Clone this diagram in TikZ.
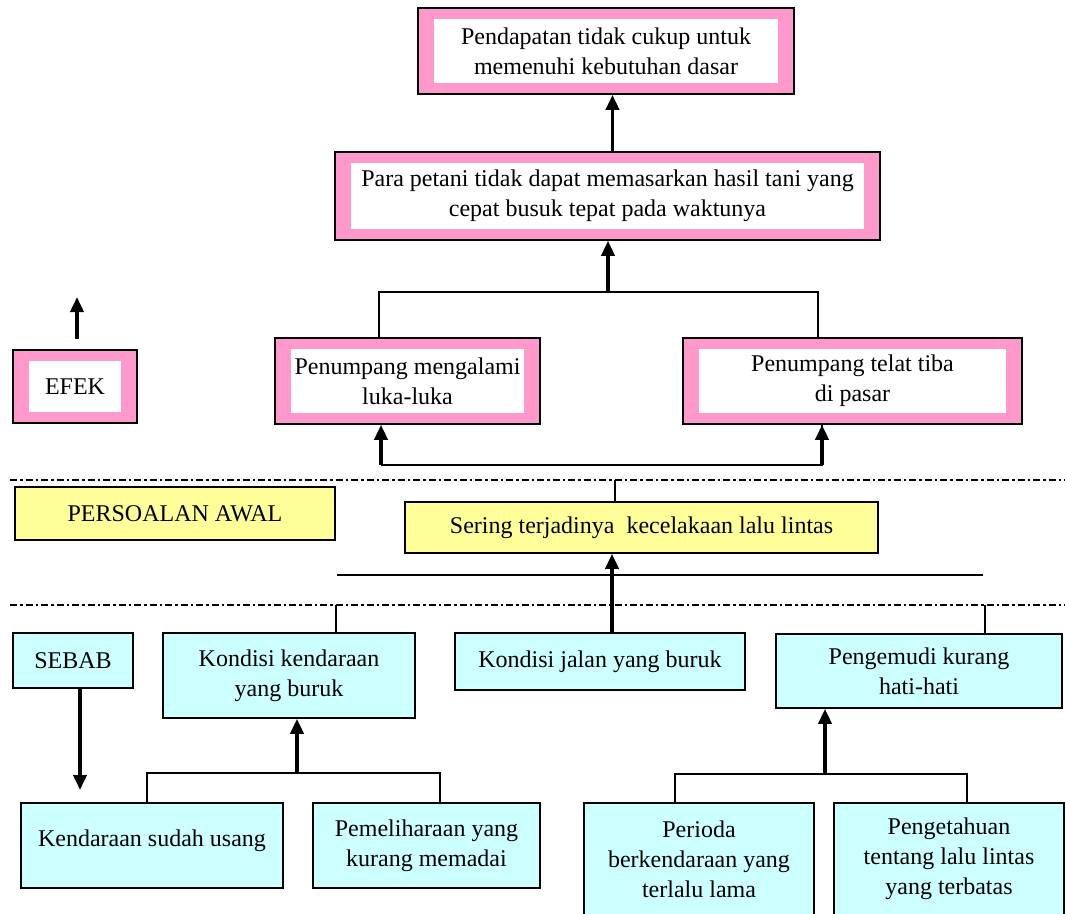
\documentclass[tikz,border=0pt]{standalone}
\usepackage{fontspec}
\setmainfont{Liberation Serif}
\usepackage{tikz}
\usetikzlibrary{arrows.meta,positioning,calc}
\usepackage{xcolor}
\definecolor{PinkB}  {RGB}{255,153,204}
\definecolor{CyanL}  {RGB}{204,255,255}
\definecolor{YellowL}{RGB}{255,255,153}
\tikzset{
  box/.style={draw=black,line width=1.6pt,inner sep=0pt,align=center,
    font=\fontsize{24}{30}\selectfont},
  efekbox/.style={box,fill=PinkB,
    path picture={\fill[white]
      ([shift={(16pt,-11pt)}]path picture bounding box.north west) rectangle
      ([shift={(-16pt,11pt)}]path picture bounding box.south east);}},
  awalbox/.style={box,fill=YellowL},
  sebabbox/.style={box,fill=CyanL},
  link/.style={line width=1.6pt},
  arr/.style={line width=3.6pt,-{Triangle[length=15pt,width=13pt]}},
  divider/.style={line width=2.4pt,dash pattern=on 7pt off 3pt on 2.5pt off 3pt}
}
\begin{document}
\begin{tikzpicture}[x=1pt,y=-1pt]
        \useasboundingbox[fill=white] (0,0) rectangle (1065,913);
        \node[efekbox,minimum width=376pt,minimum height=86pt] (pend) at (606,51)
          {Pendapatan tidak cukup untuk\\memenuhi kebutuhan dasar};
        \node[efekbox,minimum width=545pt,minimum height=88pt] (para) at (607.5,196)
          {Para petani tidak dapat memasarkan hasil tani yang\\cepat busuk tepat pada waktunya};
        \node[efekbox,minimum width=265pt,minimum height=86pt] (luka) at (407.5,381)
          {Penumpang mengalami\\luka-luka};
        \node[efekbox,minimum width=339pt,minimum height=86pt] (telat) at (852.5,381)
          {Penumpang telat tiba\\di pasar};
        \node[efekbox,minimum width=124pt,minimum height=73pt] (efek) at (75,386.5)
          {EFEK};
        \node[awalbox,minimum width=320pt,minimum height=53pt] (awal) at (175,513.5)
          {PERSOALAN AWAL};
        \node[awalbox,minimum width=473pt,minimum height=51pt] (sering) at (641.5,527.5)
          {Sering terjadinya\ \ kecelakaan lalu lintas};
        \node[sebabbox,minimum width=120pt,minimum height=55pt] (sebab) at (73,660.5)
          {SEBAB};
        \node[sebabbox,minimum width=252pt,minimum height=85pt] (kend) at (289,675.5)
          {Kondisi kendaraan\\yang buruk};
        \node[sebabbox,minimum width=290pt,minimum height=57pt] (jalan) at (600,661.5)
          {Kondisi jalan yang buruk};
        \node[sebabbox,minimum width=286pt,minimum height=74pt] (kemudi) at (919,671)
          {Pengemudi kurang\\hati-hati};
        \node[sebabbox,minimum width=262pt,minimum height=85pt] (usang) at (152,845.5)
          {Kendaraan sudah usang\\[-16pt]};
        \node[sebabbox,minimum width=227pt,minimum height=85pt] (pelihara) at (426.5,845.5)
          {Pemeliharaan yang\\kurang memadai};
        \node[sebabbox,minimum width=230pt,minimum height=112pt] (perioda) at (699,859)
          {Perioda\\berkendaraan yang\\terlalu lama};
        \node[sebabbox,minimum width=230pt,minimum height=112pt] (tahu) at (949,859)
          {Pengetahuan\\tentang lalu lintas\\yang terbatas};

        \coordinate (divA) at (10,480);
        \coordinate (divB) at (10,605);
        \draw[divider] (divA) -- ++(1055,0);
        \draw[divider] (divB) -- ++(1055,0);

        \draw[arr] ([xshift=5pt]para.north) -- ([xshift=5pt]para.north |- pend.south);
        \coordinate (efekJ) at (608,292);
        \draw[link] ([xshift=-28.5pt]luka.north) |- (efekJ) -| ([xshift=-34.5pt]telat.north);
        \draw[arr] (efekJ) -- (efekJ |- para.south);
        \coordinate (awalJ) at (381,465);
        \draw[link] (awalJ) -| ([xshift=-30.5pt]telat.south);
        \draw[arr] (awalJ) -- (awalJ |- luka.south);
        \draw[arr] ([xshift=-30.5pt]telat.south |- awalJ) -- ([xshift=-30.5pt]telat.south);
        \draw[link] ([xshift=-26.5pt]sering.north) -- ([xshift=-26.5pt]sering.north |- divA);
        \coordinate (sebabW) at (337,575);
        \coordinate (sebabE) at (983,575);
        \draw[link] (sebabW) -- (sebabE);
        \draw[arr] ([xshift=12pt]jalan.north) -- ([xshift=12pt]jalan.north |- sering.south);
        \draw[link] ([xshift=47pt]kend.north) -- ([xshift=47pt]kend.north |- divB);
        \draw[link] ([xshift=66pt]kemudi.north) -- ([xshift=66pt]kemudi.north |- divB);

        \coordinate (efekUp) at (77,297);
        \draw[arr] ([yshift=10pt]efek.north -| efekUp) -- (efekUp);
        \coordinate (sebabDn) at (80,790);
        \draw[arr] (sebab.south -| sebabDn) -- (sebabDn);

        \coordinate (kendJ) at (297,773);
        \draw[link] ([xshift=-5pt]usang.north) |- (kendJ) -| ([xshift=13.5pt]pelihara.north);
        \draw[arr] (kendJ) -- (kendJ |- kend.south);
        \coordinate (kemudiJ) at (825,774);
        \draw[link] ([xshift=-24pt]perioda.north) |- (kemudiJ) -| ([xshift=18pt]tahu.north);
        \draw[arr] (kemudiJ) -- (kemudiJ |- kemudi.south);
      \end{tikzpicture}
\end{document}
